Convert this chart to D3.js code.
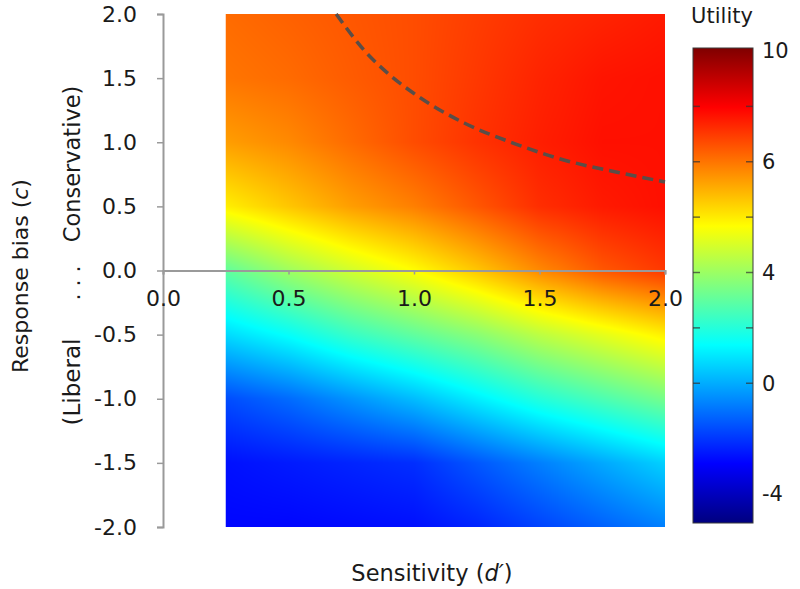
<!DOCTYPE html>
<html>
<head>
<meta charset="utf-8">
<script src="https://cdn.jsdelivr.net/npm/d3@7"></script>
<style>
  body { margin: 0; background: #fff; }
  text { font-family: "DejaVu Sans", sans-serif; fill: #1a1a1a; }
</style>
</head>
<body>
<div id="chart"></div>
<script>
// grid of utility values (rows = response bias, cols = sensitivity)
var dPrime = [0.25, 0.5, 0.75, 1.0, 1.25, 1.5, 1.75, 2.0];
var bias = [2.0, 1.5, 1.0, 0.5, 0.0, -0.5, -1.0, -1.5, -2.0];
var utility = [
  [6.55, 6.7, 6.85, 7.0, 7.23, 7.45, 7.6, 7.75],
  [6.4, 6.55, 6.78, 7.0, 7.3, 7.6, 7.83, 7.9],
  [5.8, 6.1, 6.55, 7.0, 7.38, 7.68, 7.9, 7.9],
  [4.6, 5.2, 5.8, 6.25, 6.85, 7.45, 7.75, 7.9],
  [2.05, 2.95, 3.7, 4.38, 5.2, 6.1, 6.85, 7.3],
  [0.1, 0.7, 1.45, 2.05, 2.65, 3.4, 4.0, 4.6],
  [-2.0, -1.55, -0.95, -0.35, 0.4, 1.15, 1.75, 2.35],
  [-2.9, -2.75, -2.6, -2.45, -1.85, -1.25, -0.65, -0.05],
  [-3.05, -3.05, -2.98, -2.9, -2.6, -2.15, -1.7, -1.25]
];

// optimal criterion (dashed curve)
var optD = [0.69, 0.8, 0.9, 1.0, 1.2, 1.4, 1.6, 1.8, 2.0];
var optC = [2.0, 1.72, 1.53, 1.38, 1.15, 0.99, 0.86, 0.77, 0.69];

var xTicks = [0, 0.5, 1.0, 1.5, 2.0];
var yTicks = [-2, -1.5, -1, -0.5, 0, 0.5, 1, 1.5, 2];
var cbarLabels = ["10", "6", "4", "0", "-4"];
var cbarMarks = [0.5, 1, 1.5, 2, 2.5, 3];

// jet colormap
var jetDomain = [-5, -3.125, 0.625, 4.375, 8.125, 10];
var jetColors = ["#00007f", "#0000ff", "#00ffff", "#ffff00", "#ff0000", "#7f0000"];

var width = 800, height = 589;

var svg = d3.select("#chart").append("svg")
  .attr("width", width)
  .attr("height", height);

var x = d3.scaleLinear().domain([0, 2]).range([163, 665]);
var y = d3.scaleLinear().domain([-2, 2]).range([527, 14]);
var color = d3.scaleLinear().domain(jetDomain).range(jetColors).clamp(true);

// heatmap: shade the grid smoothly (bilinear between grid nodes) on a canvas
var nc = dPrime.length, nr = bias.length;
var dStep = dPrime[1] - dPrime[0];
var cStep = bias[0] - bias[1];

function sample(d, c) {
  var fi = Math.max(0, Math.min(nc - 1, (d - dPrime[0]) / dStep));
  var fj = Math.max(0, Math.min(nr - 1, (bias[0] - c) / cStep));
  var i0 = Math.min(nc - 2, Math.floor(fi)), j0 = Math.min(nr - 2, Math.floor(fj));
  var tx = fi - i0, ty = fj - j0;
  var top = utility[j0][i0] * (1 - tx) + utility[j0][i0 + 1] * tx;
  var bot = utility[j0 + 1][i0] * (1 - tx) + utility[j0 + 1][i0 + 1] * tx;
  return top * (1 - ty) + bot * ty;
}

var hx0 = x(dPrime[0]), hx1 = x(dPrime[nc - 1]);
var hy0 = y(bias[0]), hy1 = y(bias[nr - 1]);
var W = Math.round(hx1 - hx0), H = Math.round(hy1 - hy0);
var cv = document.createElement("canvas");
cv.width = W; cv.height = H;
var ctx = cv.getContext("2d");
var img = ctx.createImageData(W, H);
for (var py = 0; py < H; py++) {
  var cv_ = y.invert(hy0 + py + 0.5);
  for (var px = 0; px < W; px++) {
    var col = d3.rgb(color(sample(x.invert(hx0 + px + 0.5), cv_)));
    var k = (py * W + px) * 4;
    img.data[k] = col.r; img.data[k + 1] = col.g; img.data[k + 2] = col.b; img.data[k + 3] = 255;
  }
}
ctx.putImageData(img, 0, 0);

svg.append("image")
  .attr("href", cv.toDataURL())
  .attr("preserveAspectRatio", "none")
  .attr("x", hx0)
  .attr("y", hy0)
  .attr("width", hx1 - hx0)
  .attr("height", hy1 - hy0);

// dashed optimal line
var line = d3.line()
  .x(function(d, i) { return x(optD[i]); })
  .y(function(d, i) { return y(optC[i]); })
  .curve(d3.curveMonotoneX);

svg.append("path")
  .datum(optD)
  .attr("d", line)
  .attr("fill", "none")
  .attr("stroke", "#5a4e48")
  .attr("stroke-width", 3.5)
  .attr("stroke-dasharray", "11,6");

// axes
var yAxis = svg.append("g")
  .attr("transform", "translate(" + x(0) + ",0)")
  .call(d3.axisLeft(y).tickValues(yTicks).tickSize(6).tickPadding(20)
    .tickFormat(function(d) { return d.toFixed(1); }));

var xAxis = svg.append("g")
  .attr("transform", "translate(0," + y(0) + ")")
  .call(d3.axisBottom(x).tickValues(xTicks).tickSize(4).tickPadding(16)
    .tickFormat(function(d) { return d.toFixed(1); }));

[xAxis, yAxis].forEach(function(g) {
  g.select(".domain").attr("stroke", "#9a9a9a").attr("stroke-width", 2);
  g.selectAll(".tick line").attr("stroke", "#9a9a9a").attr("stroke-width", 1.5);
  g.selectAll(".tick text")
    .attr("font-family", "DejaVu Sans")
    .attr("font-size", 22)
    .attr("fill", "#1a1a1a");
});

// axis titles
var xt = svg.append("text")
  .attr("x", 432)
  .attr("y", 581)
  .attr("text-anchor", "middle")
  .attr("font-size", 22.5);
xt.append("tspan").text("Sensitivity (");
xt.append("tspan").attr("font-style", "italic").text("d\u2032");
xt.append("tspan").text(")");

var yt = svg.append("text")
  .attr("transform", "translate(28,276) rotate(-90)")
  .attr("text-anchor", "middle")
  .attr("font-size", 22);
yt.append("tspan").text("Response bias (");
yt.append("tspan").attr("font-style", "italic").text("c");
yt.append("tspan").text(")");

svg.append("text")
  .attr("transform", "translate(80,382) rotate(-90)")
  .attr("text-anchor", "middle")
  .attr("font-size", 23)
  .text("(Liberal");

svg.append("text")
  .attr("transform", "translate(80,283) rotate(-90)")
  .attr("text-anchor", "middle")
  .attr("font-size", 22)
  .text(". . .");

svg.append("text")
  .attr("transform", "translate(80,164) rotate(-90)")
  .attr("text-anchor", "middle")
  .attr("font-size", 22.5)
  .text("Conservative)");

// colour bar
var cbX = 693, cbW = 60, cbTop = 48, cbBot = 523;
var grad = svg.append("defs").append("linearGradient")
  .attr("id", "jetGrad")
  .attr("x1", 0).attr("y1", 1).attr("x2", 0).attr("y2", 0);
grad.selectAll("stop")
  .data(jetDomain)
  .enter().append("stop")
  .attr("offset", function(d) { return (d - jetDomain[0]) / (jetDomain[jetDomain.length - 1] - jetDomain[0]); })
  .attr("stop-color", function(d) { return color(d); });

svg.append("rect")
  .attr("x", cbX).attr("y", cbTop)
  .attr("width", cbW).attr("height", cbBot - cbTop)
  .attr("fill", "url(#jetGrad)")
  .attr("stroke", "#3a3a3a")
  .attr("stroke-width", 1);

var cb = d3.scaleLinear().domain([0, cbarLabels.length - 1]).range([51, 494]);

svg.selectAll(".cbmark")
  .data(cbarMarks)
  .enter().append("g")
  .each(function(d) {
    var g = d3.select(this);
    g.append("line").attr("x1", cbX).attr("x2", cbX + 7)
      .attr("y1", cb(d)).attr("y2", cb(d));
    g.append("line").attr("x1", cbX + cbW - 7).attr("x2", cbX + cbW)
      .attr("y1", cb(d)).attr("y2", cb(d));
  })
  .selectAll("line")
  .attr("stroke", "#333")
  .attr("stroke-opacity", 0.7)
  .attr("stroke-width", 1.5);

svg.selectAll(".cblabel")
  .data(cbarLabels)
  .enter().append("text")
  .attr("x", 762)
  .attr("y", function(d, i) { return cb(i); })
  .attr("dy", "0.35em")
  .attr("font-size", 21)
  .text(function(d) { return d; });

svg.append("text")
  .attr("x", 722)
  .attr("y", 23)
  .attr("text-anchor", "middle")
  .attr("font-size", 21)
  .text("Utility");
</script>
</body>
</html>
